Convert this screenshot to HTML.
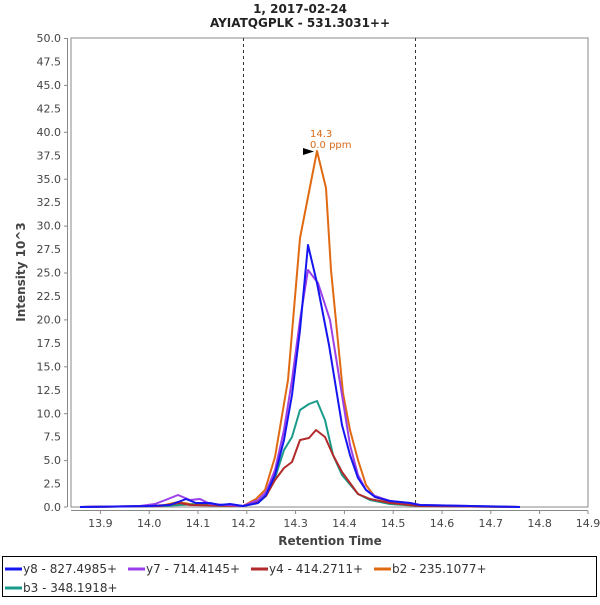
<!DOCTYPE html>
<html><head><style>
body{margin:0;background:#fff;}
svg text{font-family:"DejaVu Sans","Liberation Sans",sans-serif;}
</style></head><body>
<svg width="600" height="600" xmlns="http://www.w3.org/2000/svg">
<rect width="600" height="600" fill="#fff"/>
<text x="300" y="13" font-size="12" font-weight="bold" text-anchor="middle" fill="#222">1, 2017-02-24</text>
<text x="300" y="27" font-size="12" font-weight="bold" text-anchor="middle" fill="#222">AYIATQGPLK - 531.3031++</text>
<rect x="71" y="38" width="517" height="469" fill="#fff" stroke="#888" stroke-width="1"/>
<line x1="67.5" y1="38" x2="67.5" y2="507" stroke="#888"/>
<line x1="71" y1="510.5" x2="588" y2="510.5" stroke="#888"/>
<g font-size="11" fill="#444" text-anchor="end">
<text x="61" y="42">50.0</text><text x="61" y="65.5">47.5</text><text x="61" y="89">45.0</text><text x="61" y="112.4">42.5</text><text x="61" y="135.9">40.0</text><text x="61" y="159.3">37.5</text><text x="61" y="182.8">35.0</text><text x="61" y="206.2">32.5</text><text x="61" y="229.7">30.0</text><text x="61" y="253.1">27.5</text><text x="61" y="276.6">25.0</text><text x="61" y="300">22.5</text><text x="61" y="323.5">20.0</text><text x="61" y="346.9">17.5</text><text x="61" y="370.4">15.0</text><text x="61" y="393.8">12.5</text><text x="61" y="417.3">10.0</text><text x="61" y="440.7">7.5</text><text x="61" y="464.2">5.0</text><text x="61" y="487.6">2.5</text><text x="61" y="511">0.0</text>
</g>
<g stroke="#888">
<line x1="64" y1="38.5" x2="67" y2="38.5"/><line x1="64" y1="85.4" x2="67" y2="85.4"/><line x1="64" y1="132.3" x2="67" y2="132.3"/><line x1="64" y1="179.2" x2="67" y2="179.2"/><line x1="64" y1="226.1" x2="67" y2="226.1"/><line x1="64" y1="273" x2="67" y2="273"/><line x1="64" y1="319.9" x2="67" y2="319.9"/><line x1="64" y1="366.8" x2="67" y2="366.8"/><line x1="64" y1="413.7" x2="67" y2="413.7"/><line x1="64" y1="460.6" x2="67" y2="460.6"/><line x1="64" y1="507" x2="67" y2="507"/>
<line x1="100.4" y1="511" x2="100.4" y2="514"/><line x1="149.2" y1="511" x2="149.2" y2="514"/><line x1="198" y1="511" x2="198" y2="514"/><line x1="246.8" y1="511" x2="246.8" y2="514"/><line x1="295.6" y1="511" x2="295.6" y2="514"/><line x1="344.4" y1="511" x2="344.4" y2="514"/><line x1="393.2" y1="511" x2="393.2" y2="514"/><line x1="442" y1="511" x2="442" y2="514"/><line x1="490.8" y1="511" x2="490.8" y2="514"/><line x1="539.6" y1="511" x2="539.6" y2="514"/><line x1="588" y1="511" x2="588" y2="514"/>
</g>
<g font-size="11" fill="#444" text-anchor="middle">
<text x="100.4" y="527">13.9</text><text x="149.2" y="527">14.0</text><text x="198" y="527">14.1</text><text x="243.5" y="527">14.2</text><text x="295.6" y="527">14.3</text><text x="344.4" y="527">14.4</text><text x="393.2" y="527">14.5</text><text x="442" y="527">14.6</text><text x="490.8" y="527">14.7</text><text x="539.6" y="527">14.8</text><text x="588" y="527">14.9</text>
</g>
<text x="330" y="545" font-size="12" font-weight="bold" text-anchor="middle" fill="#444">Retention Time</text>
<text transform="translate(25,272) rotate(-90)" font-size="12" font-weight="bold" text-anchor="middle" fill="#444">Intensity 10^3</text>
<line x1="243.5" y1="38" x2="243.5" y2="507" stroke="#333" stroke-dasharray="3,3"/>
<line x1="415.5" y1="38" x2="415.5" y2="507" stroke="#333" stroke-dasharray="3,3"/>
<g fill="none" stroke-width="2" stroke-linejoin="round">
<polyline stroke="#e06a12" points="80,507 150,506 165,505 178,502 190,504 210,505 230,506 243,506 256,499 265,490 275,457 288,380 300,238 317,151 326,188 331,270 343,393 350,430 358,460 366,485 375,497 390,502 400,504 420,506 520,507"/>
<polyline stroke="#1a9a8a" points="80,507 160,506 180,505 200,504 243,506 258,503 266,496 275,478 284,450 292,437 300,410 309,404 317,401 325,420 333,455 342,475 358,494 370,500 390,504 420,506 520,507"/>
<polyline stroke="#b22a2a" points="80,507 160,506 180,503 190,505 243,506 258,502 266,496 275,480 284,468 292,462 300,440 309,438 316,430 325,437 333,455 342,472 358,494 370,499 390,503 420,506 520,507"/>
<polyline stroke="#9b3fe8" points="80,507 140,506 155,504 168,499 178,495 190,500 200,499 210,504 243,506 258,500 266,492 275,470 284,430 292,380 300,320 308,270 318,283 330,320 342,395 350,445 358,475 366,490 375,496 390,501 410,503 420,505 520,507"/>
<polyline stroke="#1515f0" points="80,507 150,506 170,505 186,499 196,503 210,503 220,505 230,504 243,506 258,503 266,495 275,475 284,440 292,395 300,330 308,245 317,283 329,345 342,425 350,455 358,478 366,490 375,497 390,501 410,503 420,505 520,507"/>
</g>
<polygon points="303,148 303,155 314,151.5" fill="#000"/>
<text x="310" y="137" font-size="10" fill="#d86a1a">14.3</text>
<text x="310" y="148" font-size="10" fill="#d86a1a">0.0 ppm</text>
<rect x="2.5" y="556.5" width="594" height="40" fill="none" stroke="#000"/>
<g stroke-width="3">
<line x1="5" y1="569" x2="22" y2="569" stroke="#1515f0"/>
<line x1="128" y1="569" x2="145" y2="569" stroke="#9b3fe8"/>
<line x1="251" y1="569" x2="268" y2="569" stroke="#b22a2a"/>
<line x1="374" y1="569" x2="391" y2="569" stroke="#e06a12"/>
<line x1="5" y1="588" x2="22" y2="588" stroke="#1a9a8a"/>
</g>
<g font-size="12" fill="#333">
<text x="23" y="573">y8 - 827.4985+</text>
<text x="146" y="573">y7 - 714.4145+</text>
<text x="269" y="573">y4 - 414.2711+</text>
<text x="392" y="573">b2 - 235.1077+</text>
<text x="23" y="592">b3 - 348.1918+</text>
</g>
</svg>
</body></html>
